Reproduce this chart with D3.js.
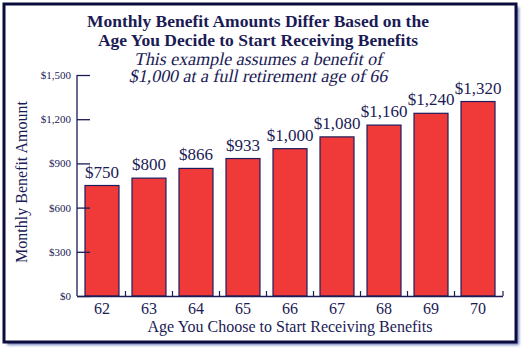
<!DOCTYPE html>
<html lang="en">
<head>
    <meta charset="utf-8">
    <title>Monthly Benefit Amounts</title>
    <script type="text/javascript" src="https://cdn.jsdelivr.net/npm/d3@7"></script>
    <style type="text/css">
        body { margin: 0; background: #fff; }
        text { font-family: "Liberation Serif", "DejaVu Serif", serif; fill: #1b1b55; }
    </style>
</head>
<body>
<script type="text/javascript">

    // data
    var ages = ["62", "63", "64", "65", "66", "67", "68", "69", "70"];
    var benefits = [750, 800, 866, 933, 1000, 1080, 1160, 1240, 1320];
    var yTicks = [0, 300, 600, 900, 1200, 1500];

    var w = 527;
    var h = 351;
    var navy = "#1b1b55";

    var svg = d3.select("body")
        .append("svg")
        .attr("width", w)
        .attr("height", h);

    // soft shadow behind the frame
    var defs = svg.append("defs");
    defs.append("filter").attr("id", "blur")
        .append("feGaussianBlur").attr("stdDeviation", 1.5);

    svg.append("rect")
        .attr("x", 7).attr("y", 7)
        .attr("width", 512).attr("height", 338)
        .attr("fill", "#6d7fb8")
        .attr("filter", "url(#blur)");

    svg.append("rect")
        .attr("x", 4).attr("y", 4)
        .attr("width", 512).attr("height", 338)
        .attr("fill", "#fff")
        .attr("stroke", "#0c0c3e")
        .attr("stroke-width", 3);

    // titles
    var cx = 258;
    svg.append("text").attr("x", cx).attr("y", 27)
        .attr("text-anchor", "middle")
        .attr("font-size", 17.5).attr("font-weight", "bold")
        .text("Monthly Benefit Amounts Differ Based on the");
    svg.append("text").attr("x", cx).attr("y", 45.5)
        .attr("text-anchor", "middle")
        .attr("font-size", 17.5).attr("font-weight", "bold")
        .text("Age You Decide to Start Receiving Benefits");

    // subtitle: regular serif slanted by hand (no serif italic face around)
    svg.append("text")
        .attr("transform", "translate(" + cx + ",65) skewX(-12)")
        .attr("text-anchor", "middle")
        .attr("font-size", 18)
        .text("This example assumes a benefit of");
    svg.append("text")
        .attr("transform", "translate(" + cx + ",82) skewX(-12)")
        .attr("text-anchor", "middle")
        .attr("font-size", 18)
        .text("$1,000 at a full retirement age of 66");

    // scales
    var xScale = d3.scaleBand()
        .domain(ages)
        .range([77, 503])
        .paddingInner(0.277)
        .paddingOuter(0.17);

    var yScale = d3.scaleLinear()
        .domain([0, 1500])
        .range([296, 75]);

    // bars
    svg.selectAll("rect.bar")
        .data(benefits)
        .enter()
        .append("rect")
        .attr("class", "bar")
        .attr("x", function(d, i) { return xScale(ages[i]); })
        .attr("y", function(d) { return yScale(d); })
        .attr("width", xScale.bandwidth())
        .attr("height", function(d) { return yScale(0) - yScale(d); })
        .attr("fill", "#f03a3a")
        .attr("stroke", "#1d1d5e")
        .attr("stroke-width", 1.2);

    // value labels
    svg.selectAll("text.val")
        .data(benefits)
        .enter()
        .append("text")
        .attr("class", "val")
        .attr("x", function(d, i) { return xScale(ages[i]) + xScale.bandwidth() / 2; })
        .attr("y", function(d) { return yScale(d) - 8; })
        .attr("text-anchor", "middle")
        .attr("font-size", 17)
        .text(function(d) { return "$" + d3.format(",")(d); });

    // y axis, ticks pointing inward
    var yAxis = d3.axisRight(yScale)
        .tickValues(yTicks)
        .tickSize(13)
        .tickFormat(function(d) { return "$" + d3.format(",")(d); });

    var gy = svg.append("g")
        .attr("transform", "translate(77,0)")
        .call(yAxis);
    gy.select(".domain").attr("stroke", navy).attr("stroke-width", 1.3).attr("d", "M0,75V296");
    gy.selectAll(".tick line").attr("stroke", navy).attr("stroke-width", 1.3);
    gy.selectAll(".tick text")
        .attr("x", -6)
        .attr("text-anchor", "end")
        .attr("font-size", 11)
        .attr("font-family", "Liberation Serif")
        .style("fill", navy);

    // x axis: small upward ticks at band boundaries
    var bounds = ages.map(function(a) { return xScale(a) - xScale.step() * xScale.paddingInner() / 2; });
    bounds.push(503);
    bounds = bounds.slice(1);

    svg.append("line")
        .attr("x1", 77).attr("x2", 503)
        .attr("y1", 296.5).attr("y2", 296.5)
        .attr("stroke", navy).attr("stroke-width", 1.3);

    svg.selectAll("line.xtick")
        .data(bounds)
        .enter()
        .append("line")
        .attr("class", "xtick")
        .attr("x1", function(d) { return d; })
        .attr("x2", function(d) { return d; })
        .attr("y1", 296).attr("y2", 291)
        .attr("stroke", navy).attr("stroke-width", 1.2);

    svg.selectAll("text.age")
        .data(ages)
        .enter()
        .append("text")
        .attr("class", "age")
        .attr("x", function(d) { return xScale(d) + xScale.bandwidth() / 2; })
        .attr("y", 314)
        .attr("text-anchor", "middle")
        .attr("font-size", 16)
        .text(function(d) { return d; });

    // axis titles
    svg.append("text")
        .attr("x", 290).attr("y", 332)
        .attr("text-anchor", "middle")
        .attr("font-size", 16)
        .text("Age You Choose to Start Receiving Benefits");

    svg.append("text")
        .attr("transform", "translate(27,182) rotate(-90)")
        .attr("text-anchor", "middle")
        .attr("font-size", 16)
        .text("Monthly Benefit Amount");

</script>
</body>
</html>
